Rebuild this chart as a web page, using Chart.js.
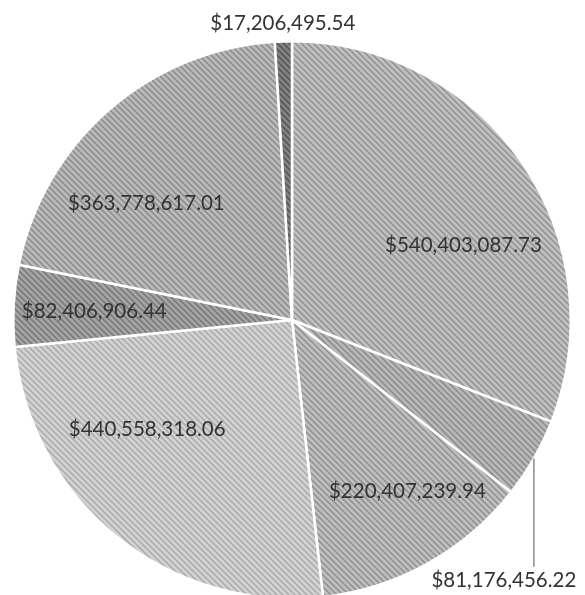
<!DOCTYPE html>
<html>
<head>
<meta charset="utf-8">
<script src="https://cdn.jsdelivr.net/npm/chart.js@4.4.1/dist/chart.umd.min.js"></script>
<style>
    html, body { margin: 0; padding: 0; background: #fff; overflow: hidden; }
    #wrap { position: absolute; left: 0; top: 0; width: 585px; height: 640px; }
</style>
</head>
<body>
<div id="wrap"><canvas id="chart" width="585" height="640"></canvas></div>
<script>
// slices, clockwise from 12 o'clock
const amounts = [540403087.73, 81176456.22, 220407239.94, 440558318.06, 82406906.44, 363778617.01, 17206495.54];
const shades = ["#c2c2c2", "#b9b9b9", "#c0c0c0", "#d3d3d3", "#a6a6a6", "#bcbcbc", "#848484"];
const hatchShades = ["#959595", "#8e8e8e", "#939393", "#aeaeae", "#7b7b7b", "#8f8f8f", "#585858"];

// label placement: "in" = inside the slice, "top" = above the pie, "leader" = below with a line
const labelMode = ["in", "leader", "in", "in", "in", "in", "top"];
const labelTurn = [10.9, 0, -4.9, 14, -0.4, -10.2, 0];
const labelDist = [0.67, 1, 0.74, 0.65, 0.71, 0.67, 1.065];

const chartCanvas = document.getElementById("chart");

function money(v) {
    return v.toLocaleString("en-US", { style: "currency", currency: "USD" });
}

// downward diagonal hatch tile
function hatch(bg, line) {
    const s = 6;
    const tile = document.createElement("canvas");
    tile.width = s;
    tile.height = s;
    const t = tile.getContext("2d");
    t.fillStyle = bg;
    t.fillRect(0, 0, s, s);
    t.strokeStyle = line;
    t.lineWidth = 1.6;
    t.beginPath();
    t.moveTo(-1, -1); t.lineTo(s + 1, s + 1);
    t.moveTo(-1, s - 1); t.lineTo(1, s + 1);
    t.moveTo(s - 1, -1); t.lineTo(s + 1, 1);
    t.stroke();
    return t.createPattern(tile, "repeat");
}

const patterns = shades.map((c, i) => hatch(c, hatchShades[i]));

const sliceLabels = {
    id: "sliceLabels",
    afterDatasetsDraw(chart) {
        const ctx = chart.ctx;
        const meta = chart.getDatasetMeta(0);
        ctx.save();
        ctx.font = "20.5px Lato";
        ctx.fillStyle = "#333333";
        ctx.textAlign = "center";
        ctx.textBaseline = "middle";
        meta.data.forEach((arc, i) => {
            const p = arc.getProps(["x", "y", "startAngle", "endAngle", "outerRadius"], true);
            const mid = (p.startAngle + p.endAngle) / 2;
            const text = money(amounts[i]);
            if (labelMode[i] === "leader") {
                const lx = p.x + Math.cos(mid) * p.outerRadius;
                const ly = p.y + Math.sin(mid) * p.outerRadius;
                const endY = p.y + p.outerRadius * 0.885;
                ctx.strokeStyle = "#7a7a7a";
                ctx.lineWidth = 1.3;
                ctx.beginPath();
                ctx.moveTo(lx, ly);
                ctx.lineTo(lx, endY);
                ctx.stroke();
                ctx.fillText(text, lx - 30, endY + 14);
                return;
            }
            const a = mid + labelTurn[i] * Math.PI / 180;
            const r = p.outerRadius * labelDist[i];
            ctx.fillText(text, p.x + Math.cos(a) * r, p.y + Math.sin(a) * r);
        });
        ctx.restore();
    }
};

new Chart(chartCanvas, {
    type: "pie",
    data: {
        labels: amounts.map(money),
        datasets: [{
            data: amounts,
            backgroundColor: patterns,
            borderColor: "#ffffff",
            borderWidth: 2.5
        }]
    },
    options: {
        responsive: false,
        animation: false,
        layout: { padding: { top: 40, bottom: 40, left: 12, right: 13 } },
        plugins: {
            legend: { display: false },
            tooltip: { enabled: false }
        }
    },
    plugins: [sliceLabels]
});
</script>
</body>
</html>
